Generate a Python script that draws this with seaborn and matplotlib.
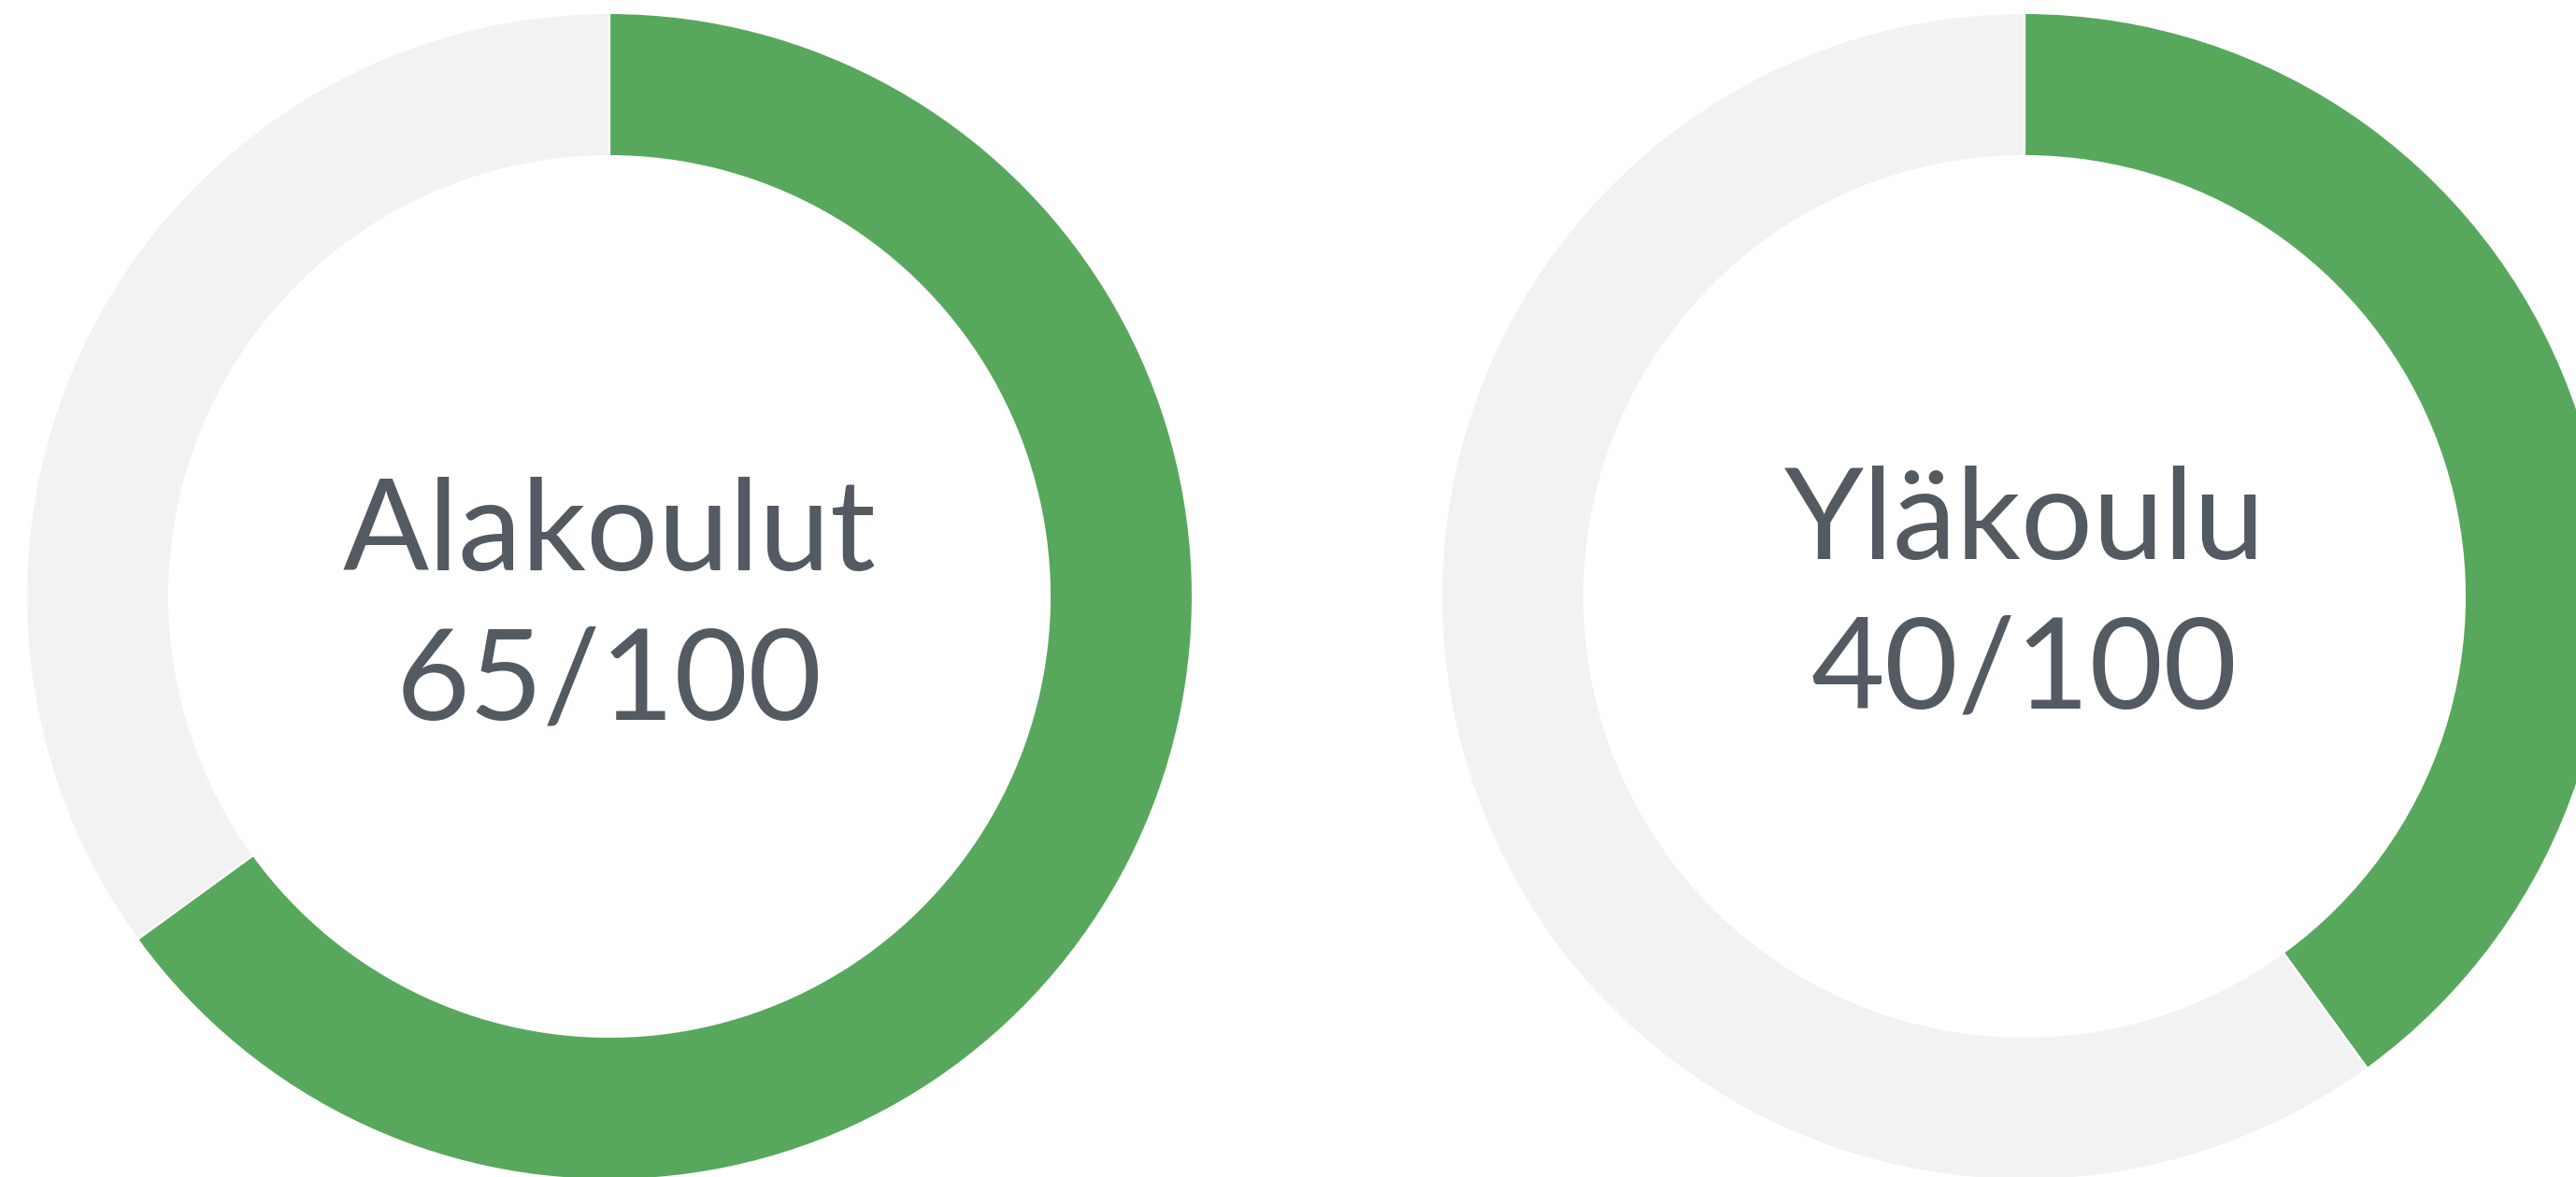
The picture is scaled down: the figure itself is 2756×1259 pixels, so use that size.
import matplotlib
matplotlib.use("Agg")
import matplotlib.pyplot as plt
import seaborn as sns

# Pisteet per koulutaso
labels = ["Alakoulut", "Yläkoulu"]
scores = [65, 40]
max_score = 100

sns.set_theme(style="white")
plt.rcParams['font.family'] = ['Lato', 'DejaVu Sans']

green = "#57a85c"
grey = "#f2f2f2"
text_col = "#545a61"

W, H = 2756, 1259
fig = plt.figure(figsize=(W / 100, H / 100), dpi=100)
ax = fig.add_axes([0, 0, 1, 1])

# keskipisteet pikseleinä (y ylhäältä)
centers = [(652, 638), (2166, 638)]
R_out, R_in = 624, 471
baselines = [(610, 770), (598, 757)]

for i, (lab, sc) in enumerate(zip(labels, scores)):
    cx, cy = centers[i]
    ax.pie([sc, max_score - sc], colors=[green, grey], startangle=90,
           counterclock=False, center=(cx, H - cy), radius=R_out,
           wedgeprops=dict(width=R_out - R_in, edgecolor="white", linewidth=1.5))
    b1, b2 = baselines[i]
    ax.text(cx, H - b1, lab, ha='center', va='baseline', fontsize=98, color=text_col)
    ax.text(cx, H - b2, f"{sc}/{max_score}", ha='center', va='baseline', fontsize=98, color=text_col)

ax.set_xlim(0, W)
ax.set_ylim(0, H)
ax.set_aspect('equal')
ax.axis('off')

fig.savefig("out.png", dpi=100, facecolor="white")
